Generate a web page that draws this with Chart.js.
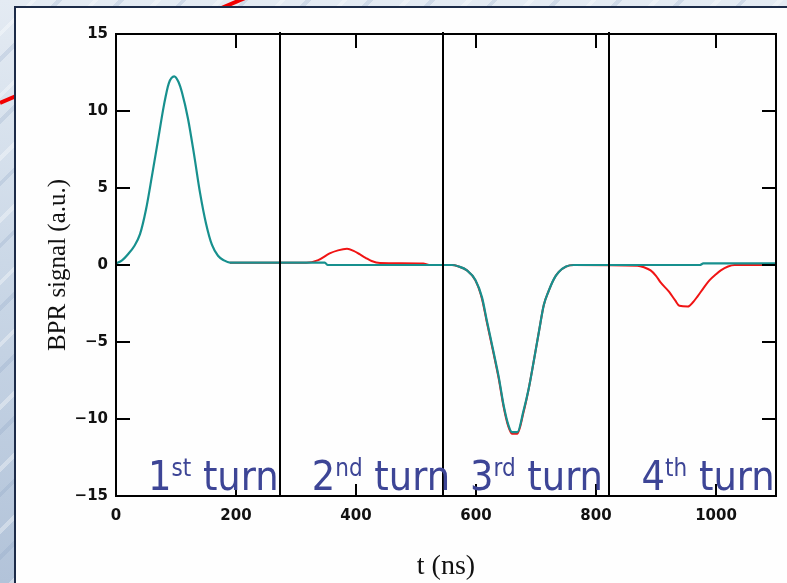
<!DOCTYPE html>
<html>
<head>
<meta charset="utf-8">
<script src="https://cdn.jsdelivr.net/npm/chart.js@4.4.0/dist/chart.umd.min.js"></script>
<style>
  html, body { margin: 0; padding: 0; }
  body {
    width: 787px; height: 583px; overflow: hidden; position: relative;
    background: linear-gradient(to bottom, #e4ebf3 0%, #cbd8e7 45%, #b2c3d9 100%);
  }
  .stripes {
    position: absolute; left: 0; top: 0; width: 787px; height: 583px;
    background: repeating-linear-gradient(135deg,
      rgba(255,255,255,0) 0 22px, rgba(255,255,255,0.35) 22px 26px,
      rgba(255,255,255,0) 26px 40px, rgba(130,155,190,0.22) 40px 44px);
  }
  .redline {
    position: absolute; left: 0; top: 101px; width: 280px; height: 4px;
    background: #f20000; transform-origin: 0 50%; transform: rotate(-23.2deg);
  }
  .panel {
    position: absolute; left: 14px; top: 6px; right: 0; bottom: 0;
    background: #fefefe;
    border-left: 2px solid #1c2b48; border-top: 2px solid #1c2b48;
  }
  #chart { position: absolute; left: 0; top: 0; }
</style>
</head>
<body>
<div class="stripes"></div>
<div class="redline"></div>
<div class="panel"></div>
<canvas id="chart" width="787" height="583"></canvas>
<script>
// teal trace (ns, a.u.)
const tTeal = [0, 10, 20, 30, 40, 50, 60, 70, 80, 88, 97, 104, 110, 120, 130, 140, 150, 160, 170, 180, 190,
  348, 353, 560, 570, 585, 599, 610, 618, 629, 638, 646, 654, 660, 669, 679, 688, 696, 705, 713, 721, 730, 738, 750, 763,
  973, 979, 1100];
const vTeal = [0.1, 0.3, 0.7, 1.2, 2.0, 3.6, 5.8, 8.1, 10.4, 11.8, 12.25, 11.9, 11.2, 9.5, 7.2, 4.7, 2.7, 1.3, 0.6, 0.3, 0.15,
  0.15, 0.0, 0.0, -0.08, -0.35, -0.97, -2.1, -3.6, -5.6, -7.3, -9.1, -10.4, -10.85, -10.85, -9.5, -8.0, -6.3, -4.3, -2.6, -1.7, -0.9, -0.45, -0.1, 0.0,
  0.0, 0.1, 0.1];

// red trace (ns, a.u.)
const tRed = [190, 317, 337, 356, 370, 385, 396, 406, 416, 426, 440, 512, 522,
  560, 570, 585, 599, 610, 618, 629, 638, 646, 654, 660, 669, 679, 688, 696, 705, 713, 721, 730, 738, 750, 763,
  869, 880, 891, 900, 908, 922, 932, 939, 953, 962, 969, 980, 989, 1000, 1008, 1020, 1031, 1100];
const vRed = [0.15, 0.15, 0.32, 0.75, 0.95, 1.05, 0.92, 0.7, 0.47, 0.26, 0.13, 0.1, 0.0,
  0.0, -0.08, -0.35, -1.0, -2.2, -3.7, -5.7, -7.4, -9.2, -10.5, -10.95, -10.95, -9.6, -8.0, -6.3, -4.3, -2.6, -1.7, -0.9, -0.45, -0.1, 0.0,
  -0.05, -0.15, -0.35, -0.7, -1.15, -1.75, -2.3, -2.65, -2.7, -2.4, -2.05, -1.45, -1.0, -0.6, -0.35, -0.1, 0.0, 0.0];

const xTicks = [0, 200, 400, 600, 800, 1000];
const yTicks = [-15, -10, -5, 0, 5, 10, 15];

// turn boundaries (ns) and labels
const turnBounds = [273, 545, 821];
const turnNums = ["1", "2", "3", "4"];
const turnSups = ["st", "nd", "rd", "th"];

const toPoints = (ts, vs) => ts.map((t, i) => ({ x: t, y: vs[i] }));

const framePlugin = {
  id: "frame",
  afterDatasetsDraw(chart) {
    const { ctx, chartArea: { left, right, top, bottom }, scales: { x, y } } = chart;
    ctx.save();
    ctx.strokeStyle = "#000";
    ctx.lineWidth = 2;
    ctx.strokeRect(left, top, right - left, bottom - top);

    // inward ticks on all four sides
    ctx.beginPath();
    xTicks.forEach((v) => {
      const px = Math.round(x.getPixelForValue(v));
      ctx.moveTo(px, top); ctx.lineTo(px, top + 14);
      ctx.moveTo(px, bottom); ctx.lineTo(px, bottom - 12);
    });
    yTicks.forEach((v) => {
      const py = Math.round(y.getPixelForValue(v));
      ctx.moveTo(left, py); ctx.lineTo(left + 14, py);
      ctx.moveTo(right, py); ctx.lineTo(right - 14, py);
    });
    ctx.stroke();

    // turn separators
    ctx.beginPath();
    turnBounds.forEach((v) => {
      const px = Math.round(x.getPixelForValue(v));
      ctx.moveTo(px, top - 2); ctx.lineTo(px, bottom);
    });
    ctx.stroke();

    // turn labels
    const starts = [0, ...turnBounds];
    const shift = [32, 32, 27, 33];
    const big = "41px 'DejaVu Sans Condensed', 'DejaVu Sans'";
    const small = "24px 'DejaVu Sans Condensed', 'DejaVu Sans'";
    const base = bottom - 6;
    ctx.fillStyle = "#3d4596";
    ctx.textBaseline = "alphabetic";
    ctx.textAlign = "left";
    starts.forEach((s, i) => {
      let px = x.getPixelForValue(s) + shift[i];
      ctx.font = big;
      ctx.fillText(turnNums[i], px, base);
      px += ctx.measureText(turnNums[i]).width;
      ctx.font = small;
      ctx.fillText(turnSups[i], px, base - 14);
      px += ctx.measureText(turnSups[i]).width;
      ctx.font = big;
      ctx.fillText(" turn", px, base);
    });
    ctx.restore();
  },
};

new Chart(document.getElementById("chart").getContext("2d"), {
  type: "line",
  data: {
    datasets: [
      {
        label: "teal",
        data: toPoints(tTeal, vTeal),
        borderColor: "#17908e",
        borderWidth: 2.2,
        pointRadius: 0,
        cubicInterpolationMode: "monotone",
        order: 0,
      },
      {
        label: "red",
        data: toPoints(tRed, vRed),
        borderColor: "#f01414",
        borderWidth: 2,
        pointRadius: 0,
        cubicInterpolationMode: "monotone",
        order: 1,
      },
    ],
  },
  options: {
    responsive: false,
    animation: false,
    layout: { padding: { left: 0, top: 34, right: 11, bottom: 0 } },
    scales: {
      x: {
        type: "linear",
        min: 0,
        max: 1100,
        afterBuildTicks: (scale) => { scale.ticks = xTicks.map((v) => ({ value: v })); },
        afterFit: (scale) => { scale.height = 87; },
        grid: { display: false, drawTicks: false },
        border: { display: false },
        ticks: {
          color: "#111",
          padding: 11,
          maxRotation: 0,
          autoSkip: false,
          font: { family: "DejaVu Sans", weight: "bold", size: 15 },
          callback: (v) => String(v),
        },
        title: {
          display: true,
          text: "t (ns)",
          color: "#111",
          padding: { top: 0, bottom: 0 },
          font: { family: "Liberation Serif", size: 28 },
        },
      },
      y: {
        min: -15,
        max: 15,
        afterBuildTicks: (scale) => { scale.ticks = yTicks.map((v) => ({ value: v })); },
        afterFit: (scale) => { scale.width = 116; },
        grid: { display: false, drawTicks: false },
        border: { display: false },
        ticks: {
          color: "#111",
          padding: 8,
          font: { family: "DejaVu Sans", weight: "bold", size: 15 },
          callback: (v) => (v < 0 ? "\u2212" + Math.abs(v) : String(v)),
        },
        title: {
          display: true,
          text: "BPR signal (a.u.)",
          color: "#111",
          padding: { top: 43, bottom: 0 },
          font: { family: "Liberation Serif", size: 25 },
        },
      },
    },
    plugins: {
      legend: { display: false },
      tooltip: { enabled: false },
    },
  },
  plugins: [framePlugin],
});
</script>
</body>
</html>
